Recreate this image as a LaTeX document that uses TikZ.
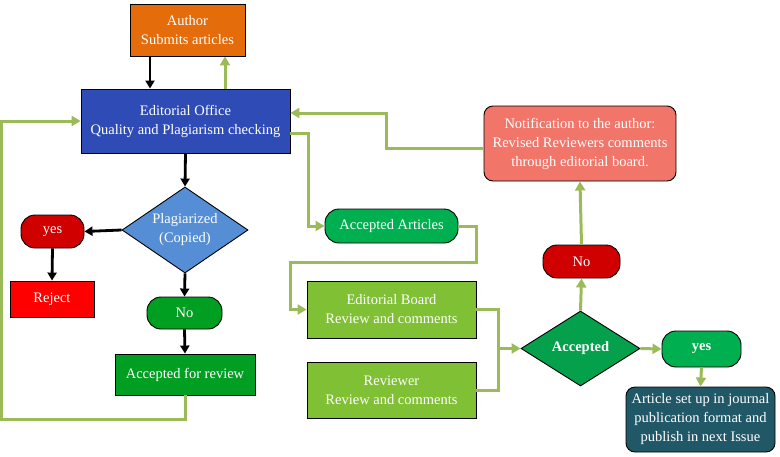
\documentclass[tikz,border=0pt]{standalone}
\usepackage{fontspec}
\setmainfont{Liberation Serif}
\usetikzlibrary{shapes.geometric,arrows.meta}
\definecolor{cOrange}{HTML}{E46C0A}
\definecolor{cBlue}{HTML}{2F4BB5}
\definecolor{cLBlue}{HTML}{558ED5}
\definecolor{cDRed}{HTML}{D00000}
\definecolor{cRed}{HTML}{FF0000}
\definecolor{cGreen}{HTML}{009E21}
\definecolor{cBGreen}{HTML}{00B050}
\definecolor{cLGreen}{HTML}{80C035}
\definecolor{cDiaGreen}{HTML}{05A04B}
\definecolor{cSalmon}{HTML}{F2756A}
\definecolor{cTeal}{HTML}{215868}
\definecolor{cLine}{HTML}{9BBB59}
\tikzset{
  txt/.style={text=white, align=center, font=\fontsize{14.5}{19}\selectfont},
  box/.style={draw=black, line width=0.9pt, txt, inner sep=0pt},
  rbox/.style={box, rounded corners=9pt},
  pill/.style={box, rounded corners=14pt},
  dia/.style={box, diamond, inner sep=0pt},
  blk/.style={line width=2.8pt, black, -{Triangle[width=9pt,length=8pt]}},
  grn/.style={line width=3pt, cLine, -{Triangle[width=10pt,length=9pt]}},
  grnl/.style={line width=3pt, cLine},
}
\begin{document}
\begin{tikzpicture}[x=1pt,y=-1pt]
\useasboundingbox (0,0) rectangle (780,456);
% nodes
\node[box, fill=cOrange, minimum width=115, minimum height=52] (author) at (187.5,30) {Author\\Submits articles};
\node[box, fill=cBlue, minimum width=209, minimum height=64] (office) at (185.5,121) {Editorial Office\\Quality and Plagiarism checking};
\node[dia, fill=cLBlue, minimum width=126, minimum height=86,
  label={[txt]center:Plagiarized\\(Copied)}] (plag) at (185,230) {};
\node[pill, fill=cDRed, minimum width=63, minimum height=33] (yes1) at (52.5,231.5) {yes};
\node[box, fill=cRed, minimum width=84, minimum height=36] (reject) at (52,299) {Reject};
\node[pill, fill=cGreen, minimum width=75, minimum height=32] (no1) at (184.5,313) {No};
\node[box, fill=cGreen, minimum width=140, minimum height=41] (acc4rev) at (185,374.5) {Accepted for review};
\node[pill, fill=cBGreen, minimum width=133, minimum height=34] (accart) at (391.5,226) {Accepted Articles};
\node[box, fill=cLGreen, minimum width=169, minimum height=57] (board) at (391.5,309.5) {Editorial Board\\Review and comments};
\node[box, fill=cLGreen, minimum width=169, minimum height=56] (rev) at (391.5,390) {Reviewer\\Review and comments};
\node[dia, fill=cDiaGreen, minimum width=119, minimum height=75,
  label={[txt, font=\fontsize{14.5}{19}\selectfont\bfseries]center:Accepted}] (accd) at (580.5,348.5) {};
\node[pill, fill=cDRed, minimum width=77, minimum height=33] (no2) at (581.5,261.5) {No};
\node[rbox, fill=cSalmon, minimum width=192, minimum height=75] (notif) at (580,143.5) {Notification to the author:\\Revised Reviewers comments\\through editorial board.};
\node[pill, fill=cBGreen, minimum width=79, minimum height=36, font=\fontsize{14.5}{19}\selectfont\bfseries] (yes2) at (701.5,349) {yes};
\node[rbox, fill=cTeal, minimum width=149, minimum height=65] (art) at (700.5,419.5) {Article set up in journal\\publication format and\\publish in next Issue};
% black connectors
\draw[blk] ([xshift=-37.5pt]author.south) -- ([xshift=-37.5pt]author.south |- office.north);
\draw[blk] (office.south) -- (plag.north);
\draw[blk] (plag.west) -- (yes1.east);
\draw[blk] (yes1.south) -- (reject.north);
\draw[blk] (plag.south) -- (no1.north);
\draw[blk] (no1.south) -- (acc4rev.north);
% green connectors
\draw[grn] ([xshift=37.5pt]author.south |- office.north) -- ([xshift=37.5pt]author.south);
\draw[grn] (acc4rev.south) -- ++(0,24) -| ([xshift=-79pt]office.west) -- (office.west);
\draw[grn] ([yshift=-4.5pt]notif.west) -- ++(-97,0) |- ([yshift=8pt]office.east);
\draw[grn] ([yshift=-12pt]office.east) -- ++(18,0) |- (accart.west);
\draw[grn] (accart.east) -- ++(18,0) -- ++(0,36) -- ++(-186,0) |- (board.west);
\draw[grnl] (board.east) -- ++(22,0) coordinate (j1) |- (rev.east);
\draw[grn] (j1 |- accd.west) -- (accd.west);
\draw[grn] (accd.north) -- (no2.south);
\draw[grn] (no2.north) -- (notif.south);
\draw[grn] (accd.east) -- (yes2.west);
\draw[grn] (yes2.south) -- (art.north);
\end{tikzpicture}
\end{document}
